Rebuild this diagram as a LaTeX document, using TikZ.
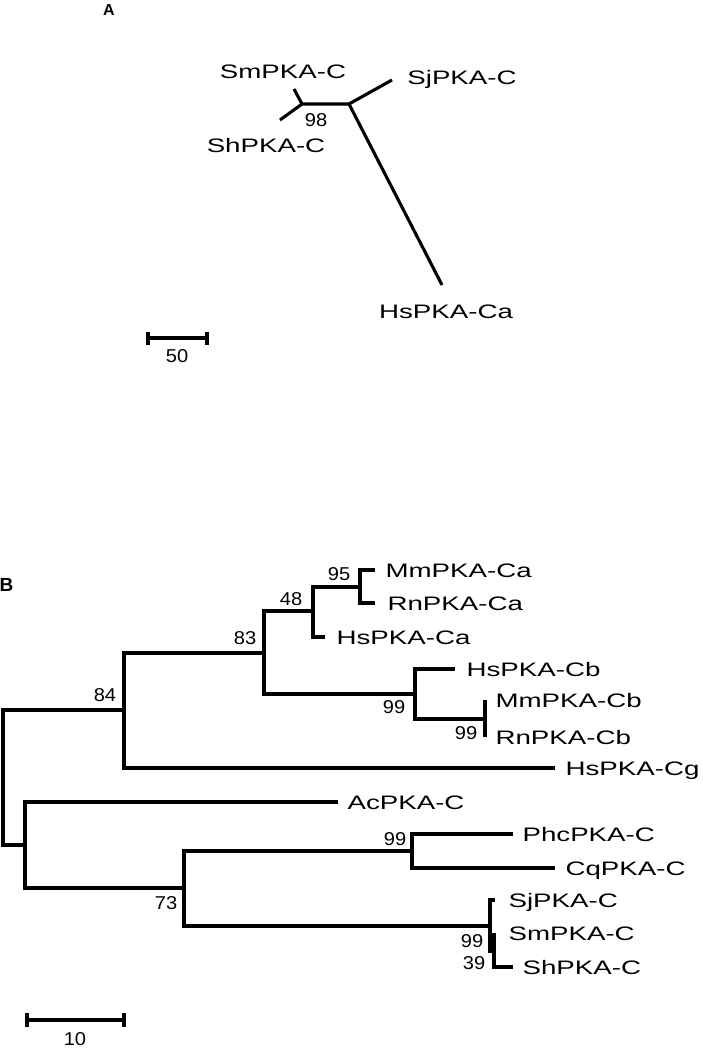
\documentclass[tikz,border=0pt]{standalone}
\usepackage{fontspec}
\setmainfont{Liberation Sans}
\newfontfamily\taxonfont[FakeStretch=1.42]{Liberation Sans}
\newfontfamily\bootfont[FakeStretch=1.08]{Liberation Sans}
\usetikzlibrary{positioning}

\tikzset{every picture/.style={line width=3.1pt}}
\tikzset{
  taxon/.style={font=\taxonfont\fontsize{19.5}{22}\selectfont, inner sep=0pt, text height=14pt, text depth=0pt},
  boot/.style={font=\bootfont\fontsize{18.6}{22}\selectfont, inner sep=0pt, text height=13.3pt, text depth=0pt},
  panel/.style={font=\bfseries\fontsize{#1}{#1}\selectfont, inner sep=0pt},
}

\begin{document}
\begin{tikzpicture}[x=1pt,y=1pt,yscale=-1,xscale=1]
	\useasboundingbox (0,0) rectangle (703,1048);
	%%% Panel A: unrooted tree
	\node [panel=16] (labA) at (109,10) {A};
	\coordinate (aL) at (302,104);
	\coordinate (aR) at (349,104);
	\coordinate (aSm) at (294,89);
	\coordinate (aSh) at (280,120);
	\coordinate (aSj) at (392,80);
	\coordinate (aHs) at (442,285);
	%Straight Lines
	\draw (aSm) -- (aL) -- (aR) -- (aHs) ;
	\draw (aSh) -- (aL) ;
	\draw (aR) -- (aSj) ;
	% Text Node
	\node [taxon] (nSmA) at (283,72) {SmPKA-C};
	\node [taxon] (nSjA) at (462,78) {SjPKA-C};
	\node [taxon] (nShA) at (266,146) {ShPKA-C};
	\node [taxon] (nHsA) at (446,311) {HsPKA-Ca};
	\node [boot] (b98) at (316,120) {98};
	%Scale bar
	\coordinate (sA1) at (148,338);
	\coordinate (sA2) at (207,338);
	\draw (sA1) -- (sA2) ;
	\draw ([yshift=-6pt]sA1) -- ([yshift=7pt]sA1) ;
	\draw ([yshift=-6pt]sA2) -- ([yshift=7pt]sA2) ;
	\node [boot] (s50) at (177,356) {50};

	%%% Panel B: rooted tree
	\node [panel=19] (labB) at (6.5,585) {B};
	% inner nodes
	\coordinate (root) at (3,777);
	\coordinate (n84) at (124,710);
	\coordinate (n83) at (264,653);
	\coordinate (n48) at (313,611);
	\coordinate (n95) at (360,587);
	\coordinate (n99b) at (415,694);
	\coordinate (n99c) at (485,719);
	\coordinate (nAc) at (25,845);
	\coordinate (n73) at (184,888);
	\coordinate (n99p) at (412,851);
	\coordinate (n99s) at (490,926);
	\coordinate (n39) at (494,951);
	% tips
	\coordinate (tMmCa) at (375,570);
	\coordinate (tRnCa) at (375,603);
	\coordinate (tHsCa) at (325,637);
	\coordinate (tHsCb) at (455,669);
	\coordinate (tMmCb) at (485,700);
	\coordinate (tRnCb) at (485,737);
	\coordinate (tHsCg) at (555,768);
	\coordinate (tAc) at (338,802);
	\coordinate (tPhc) at (513,834);
	\coordinate (tCq) at (555,868);
	\coordinate (tSj) at (495,900);
	\coordinate (tSm) at (494,933);
	\coordinate (tSh) at (513,967);
	%Branches
	\draw (root) |- (n84) ; \draw (root) |- (nAc) ;
	\draw (n84) |- (n83) ; \draw (n84) |- (tHsCg) ;
	\draw (n83) |- (n48) ; \draw (n83) |- (n99b) ;
	\draw (n48) |- (n95) ; \draw (n48) |- (tHsCa) ;
	\draw (n95) |- (tMmCa) ; \draw (n95) |- (tRnCa) ;
	\draw (n99b) |- (tHsCb) ; \draw (n99b) |- (n99c) ;
	\draw (n99c) |- (tMmCb) ; \draw (n99c) |- (tRnCb) ;
	\draw (nAc) |- (tAc) ; \draw (nAc) |- (n73) ;
	\draw (n73) |- (n99p) ; \draw (n73) |- (n99s) ;
	\draw (n99p) |- (tPhc) ; \draw (n99p) |- (tCq) ;
	\draw (n99s) |- (tSj) ; \draw (n99s) |- (n39) ;
	\draw (n39) |- (tSm) ; \draw (n39) |- (tSh) ;
	% Text Node
	\node [taxon, right=9pt of tMmCa] (lMmCa) {MmPKA-Ca};
	\node [taxon, right=11pt of tRnCa] (lRnCa) {RnPKA-Ca};
	\node [taxon, right=10pt of tHsCa] (lHsCa) {HsPKA-Ca};
	\node [taxon, right=10pt of tHsCb] (lHsCb) {HsPKA-Cb};
	\node [taxon, right=9pt of tMmCb] (lMmCb) {MmPKA-Cb};
	\node [taxon, right=9pt of tRnCb] (lRnCb) {RnPKA-Cb};
	\node [taxon, right=9pt of tHsCg] (lHsCg) {HsPKA-Cg};
	\node [taxon, right=8pt of tAc] (lAc) {AcPKA-C};
	\node [taxon, right=8pt of tPhc] (lPhc) {PhcPKA-C};
	\node [taxon, right=9pt of tCq] (lCq) {CqPKA-C};
	\node [taxon, right=12pt of tSj] (lSj) {SjPKA-C};
	\node [taxon, right=13pt of tSm] (lSm) {SmPKA-C};
	\node [taxon, right=8pt of tSh] (lSh) {ShPKA-C};
	% bootstrap values
	\node [boot] (b95) at (339,574) {95};
	\node [boot] (b48) at (291,599) {48};
	\node [boot] (b83) at (245,638) {83};
	\node [boot] (b84) at (105,695) {84};
	\node [boot] (b99b) at (394,707) {99};
	\node [boot] (b99c) at (466,733) {99};
	\node [boot] (b99p) at (395,839) {99};
	\node [boot] (b73) at (166,903) {73};
	\node [boot] (b99s) at (472,941) {99};
	\node [boot] (b39) at (474,963) {39};
	%Scale bar
	\coordinate (sB1) at (27,1020);
	\coordinate (sB2) at (124,1020);
	\draw (sB1) -- (sB2) ;
	\draw ([yshift=-7pt]sB1) -- ([yshift=7pt]sB1) ;
	\draw ([yshift=-7pt]sB2) -- ([yshift=7pt]sB2) ;
	\node [boot] (s10) at (75,1038.5) {10};
\end{tikzpicture}
\end{document}
